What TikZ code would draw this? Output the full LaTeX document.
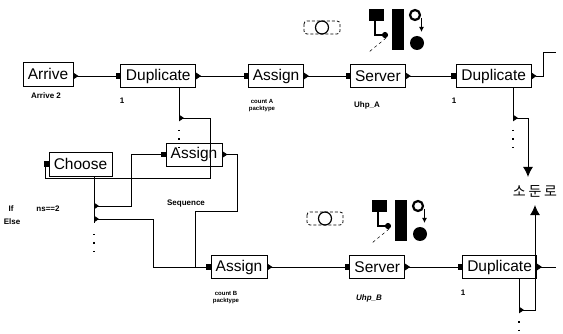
\documentclass[tikz,border=0pt]{standalone}
\usepackage{fontspec}
\usepackage{tikz}
\usetikzlibrary{arrows.meta,positioning}
\setmainfont{Liberation Sans}
\newfontfamily\krfont[LetterSpace=20]{Noto Sans CJK KR}

\begin{document}
\begin{tikzpicture}[
    x=1pt, y=-1pt,
    block/.style={draw, line width=0.8pt, inner sep=0pt, minimum height=23pt, font=\fontsize{15.5}{17}\selectfont},
    tag/.style={inner sep=0pt, align=center, font=\fontsize{8}{9}\selectfont\bfseries},
    blotted/.style={inner sep=0pt, align=center, font=\fontsize{6}{7}\selectfont\bfseries},
    wire/.style={{Triangle[reversed,length=5pt,width=6.5pt]}-{Square[length=4.5pt,width=5.5pt]}, line width=0.9pt},
    wirefree/.style={{Triangle[reversed,length=5pt,width=6.5pt]}-, line width=0.9pt},
    feed/.style={{Triangle[reversed,length=5pt,width=6.5pt]}-{Latex[length=10pt,width=10pt]}, line width=0.9pt},
    trunk/.style={line width=0.9pt},
    dots/.style={line width=1.5pt, dash pattern=on 1.5pt off 7pt},
    queueicon/.pic={
      \fill (0,0) rectangle (15,12);
      \draw[line width=1.6pt, -{Circle[length=6pt]}] (6,12) -- (6,26) -- (19,26);
      \fill (23,0) rectangle (35,41);
      \draw[line width=2.2pt] (46,6) circle (5);
      \draw[line width=1.3pt, -{Latex[length=5pt,width=5pt]}] (52.5,9) -- (52.5,23);
      \fill (48,34) circle (7);
      \draw[dashed, line width=0.5pt] (17,29) -- (0,43);
      \draw[densely dashed, line width=0.8pt, rounded corners=3pt] (-65,12) rectangle (-29,25);
      \draw[line width=1.2pt] (-47,18.5) circle (6.5);
    }
  ]
    \useasboundingbox (0,0) rectangle (563,334);

    % top row
    \node[block, minimum width=50pt, minimum height=24pt] (arrive) at (48,74) {Arrive};
    \node[block, minimum width=75pt, right=47pt of arrive, yshift=-2pt] (dupa) {Duplicate};
    \node[block, minimum width=55pt, right=52pt of dupa] (assigna) {Assign};
    \node[block, minimum width=55pt, right=46pt of assigna] (servera) {Server};
    \node[block, minimum width=75pt, right=50pt of servera] (dupb) {Duplicate};

    % middle
    \node[block, minimum width=63pt, minimum height=24pt] (choose) at (80.5,164) {Choose};
    \node[block, minimum width=56pt] (assignm) at (194,154.5) {Assign};

    % bottom row
    \node[block, minimum width=56pt] (assignl) at (239,267) {Assign};
    \node[block, minimum width=55pt, right=82pt of assignl] (serverl) {Server};
    \node[block, minimum width=74pt, right=57pt of serverl] (dupl) {Duplicate};

    \node[font=\krfont\fontsize{14}{16}\selectfont, inner sep=0pt] (kiln) at (535,191) {소둔로};

    % labels
    \node[tag] (arrivetag) at (46,96) {Arrive 2};
    \node[tag] (dupatag) at (122,101) {1};
    \node[blotted] (assignatag) at (262,106) {count A\\packtype};
    \node[tag] (serveratag) at (367,105) {Uhp\_A};
    \node[tag] (dupbtag) at (454,101) {1};
    \node[tag] (iftag) at (11,209) {If};
    \node[tag] (condtag) at (48,209) {ns==2};
    \node[tag] (elsetag) at (12,222) {Else};
    \node[tag] (seqtag) at (186,204) {Sequence};
    \node[blotted] (assignltag) at (226,298) {count B\\packtype};
    \node[tag, font=\fontsize{8}{9}\selectfont\bfseries\itshape] (serverltag) at (369,298) {Uhp\_B};
    \node[tag] (dupltag) at (463,293) {1};

    % branch points
    \coordinate (tapa) at (179,118);
    \coordinate (loopa) at (210,178);
    \coordinate (loopb) at (45,178);
    \coordinate (tapb) at (94,206);
    \coordinate (tapc) at (94,219);
    \coordinate (trunkend) at (94,223);
    \coordinate (busa) at (131,206);
    \coordinate (busb) at (153,219);
    \coordinate (busc) at (237,211);
    \coordinate (busd) at (195,211);
    \coordinate (tapd) at (513,118);
    \coordinate (tape) at (519,310);
    \coordinate (turna) at (543,52);
    \coordinate (enda) at (556,52);
    \coordinate (endl) at (556,267);

    % icons
    \pic at (369,9) {queueicon};
    \pic at (372,200) {queueicon};

    \draw[wire] (arrive.east |- dupa) -- (dupa);
    \draw[wire] (dupa) -- (assigna);
    \draw[wire] (assigna) -- (servera);
    \draw[wire] (servera) -- (dupb);
    \draw[wirefree] (dupb.east) -| (turna) -- (enda);

    \draw[trunk] (dupa.south -| tapa) -- (tapa);
    \draw[wire] (tapa) -| (loopa) -- (loopb) |- (choose.west);
    \draw[dots] ([yshift=-12pt]tapa) -- ([yshift=-32pt]tapa);

    \draw[trunk] (dupb.south -| tapd) -- (tapd);
    \draw[feed, shorten >=8pt] (tapd) -| ([xshift=-7pt]kiln.north);
    \draw[dots] ([yshift=-12pt]tapd) -- ([yshift=-32pt]tapd);

    \draw[trunk] (choose.south -| tapb) -- (trunkend);
    \draw[wire] (tapb) -- (busa) |- (assignm.west);
    \draw[wire] (tapc) -- (busb) |- (assignl.west);
    \draw[wire] (assignm.east) -| (busc) -- (busd) |- (assignl.west);
    \draw[dots] ([yshift=-11pt]trunkend) -- ([yshift=-29pt]trunkend);

    \draw[wire] (assignl) -- (serverl);
    \draw[wire] (serverl) -- (dupl);
    \draw[wirefree] (dupl.east) -- (endl);

    \draw[trunk] (dupl.south -| tape) -- (tape);
    \draw[feed, shorten >=8pt] (tape) -| (kiln.south);
    \draw[dots] ([yshift=-11pt]tape) -- ([yshift=-25pt]tape);
  \end{tikzpicture}
\end{document}
